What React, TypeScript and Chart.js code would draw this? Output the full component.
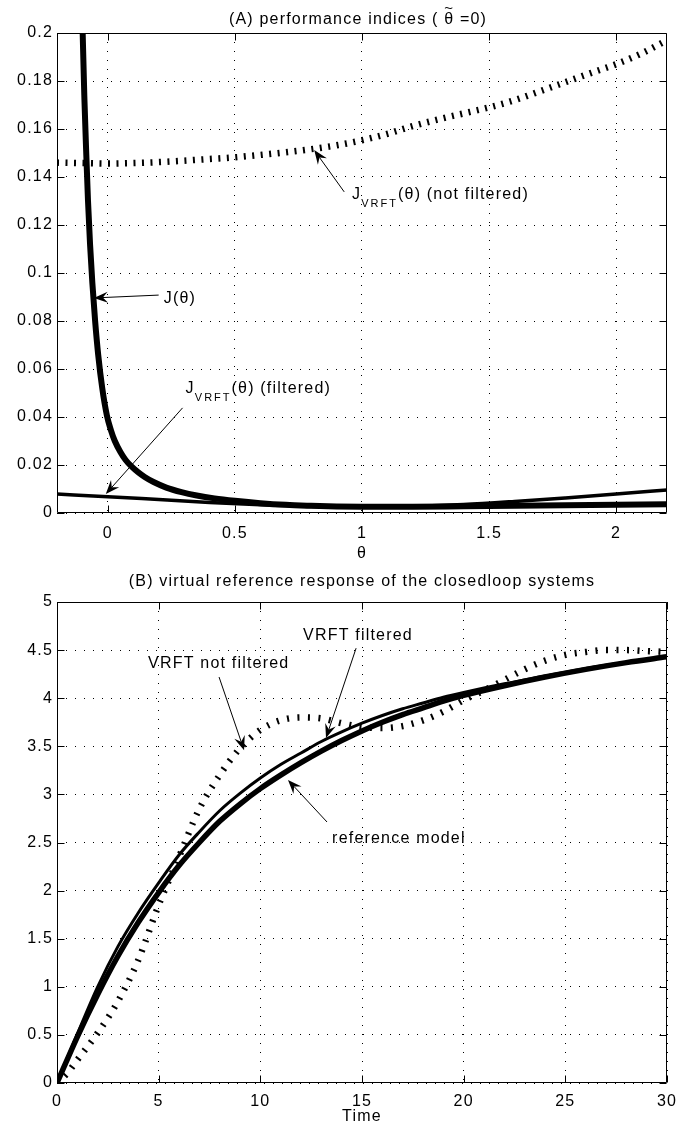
import React, { useEffect, useRef } from 'react';
import { Chart, registerables } from 'chart.js';

Chart.register(...registerables);

const FONT_FAMILY = '"Liberation Sans", Arial, Helvetica, sans-serif';
const SPACING = '1.2px';

type TitlePart = { text: string; tilde?: boolean };

// ---------------- Panel A: performance indices ----------------
const titleA: TitlePart[] = [{ text: '(A) performance indices ( ' }, { text: '\u03B8', tilde: true }, { text: ' =0)' }];
const thetaJ = [-0.104, -0.099, -0.092, -0.085, -0.078, -0.07, -0.061, -0.05, -0.038, -0.022, -0.004, 0.012, 0.027, 0.05, 0.07, 0.094, 0.12, 0.145, 0.18, 0.23, 0.29, 0.35, 0.42, 0.5, 0.6, 0.7, 0.8, 0.9, 1.0, 1.2, 1.4, 1.6, 1.8, 2.0, 2.2];
const valuesJ = [0.23, 0.2, 0.172, 0.15, 0.13, 0.112, 0.096, 0.08, 0.066, 0.052, 0.0408, 0.0345, 0.0301, 0.0253, 0.0221, 0.0193, 0.0169, 0.015, 0.0129, 0.0106, 0.0087, 0.0073, 0.0061, 0.0051, 0.0041, 0.0034, 0.003, 0.0027, 0.0026, 0.0026, 0.0028, 0.003, 0.0032, 0.0034, 0.0036];
const thetaFiltered = [-0.2, 0, 0.2, 0.4, 0.6, 0.8, 1.0, 1.2, 1.4, 1.6, 1.8, 2.0, 2.2];
const valuesFiltered = [0.0079, 0.0068, 0.0056, 0.0044, 0.0034, 0.0027, 0.0024, 0.0027, 0.0035, 0.0048, 0.0063, 0.0079, 0.0096];
const thetaNotFiltered = [-0.2, -0.1, 0, 0.1, 0.2, 0.3, 0.4, 0.5, 0.6, 0.7, 0.8, 0.9, 1.0, 1.1, 1.2, 1.3, 1.4, 1.5, 1.6, 1.7, 1.8, 1.9, 2.0, 2.1, 2.2];
const valuesNotFiltered = [0.146, 0.1458, 0.1456, 0.1458, 0.1462, 0.1468, 0.1475, 0.1482, 0.1492, 0.1503, 0.1516, 0.1532, 0.1553, 0.158, 0.1612, 0.164, 0.1665, 0.169, 0.172, 0.1757, 0.1795, 0.1833, 0.187, 0.1915, 0.197];
const xTicksA = [0, 0.5, 1, 1.5, 2];
const yTicksA = [0, 0.02, 0.04, 0.06, 0.08, 0.1, 0.12, 0.14, 0.16, 0.18, 0.2];

// ---------------- Panel B: virtual reference responses ----------------
const titleB: TitlePart[] = [{ text: '(B) virtual reference response of the closedloop systems' }];
const timeRef = [0, 1, 2, 3, 4, 5, 6, 7, 8, 9, 10, 11, 12, 13, 14, 15, 16, 17, 18, 19, 20, 22, 24, 26, 28, 30];
const valuesRef = [0, 0.48, 0.92, 1.32, 1.67, 1.98, 2.26, 2.5, 2.72, 2.9, 3.06, 3.2, 3.33, 3.45, 3.56, 3.66, 3.75, 3.83, 3.9, 3.97, 4.03, 4.13, 4.22, 4.3, 4.37, 4.43];
const timeVF = [0, 1, 2, 3, 4, 5, 6, 7, 8, 9, 10, 11, 12, 13, 14, 15, 16, 17, 18, 19, 20, 22, 24, 26, 28, 30];
const valuesVF = [0, 0.51, 1.0, 1.42, 1.77, 2.08, 2.37, 2.61, 2.83, 3.01, 3.17, 3.31, 3.43, 3.55, 3.65, 3.74, 3.82, 3.89, 3.95, 4.01, 4.06, 4.15, 4.23, 4.31, 4.375, 4.43];
const timeVNF = [0, 0.5, 1, 2, 3, 4, 5, 6, 7, 8, 9, 10, 11, 12, 13, 14, 15, 16, 17, 18, 19, 20, 21, 22, 23, 24, 25, 26, 27, 28, 29, 30];
const valuesVNF = [0, 0.1, 0.24, 0.52, 0.85, 1.28, 1.85, 2.35, 2.85, 3.2, 3.48, 3.67, 3.77, 3.8, 3.79, 3.74, 3.7, 3.69, 3.71, 3.77, 3.86, 3.98, 4.08, 4.19, 4.3, 4.39, 4.45, 4.48, 4.5, 4.5, 4.49, 4.48];
const xTicksB = [0, 5, 10, 15, 20, 25, 30];
const yTicksB = [0, 0.5, 1, 1.5, 2, 2.5, 3, 3.5, 4, 4.5, 5];

type Part = { text: string; sub?: boolean };
type Note = { parts: Part[]; x: number; y: number; from: [number, number]; to: [number, number] };

const notesA: Note[] = [
  { parts: [{ text: 'J(\u03B8)' }], x: 0.22, y: 0.0877, from: [0.2, 0.0908], to: [-0.055, 0.0896] },
  { parts: [{ text: 'J' }, { text: 'VRFT', sub: true }, { text: '(\u03B8) (filtered)' }], x: 0.306, y: 0.05, from: [0.294, 0.0438], to: [-0.008, 0.0079] },
  { parts: [{ text: 'J' }, { text: 'VRFT', sub: true }, { text: '(\u03B8) (not filtered)' }], x: 0.961, y: 0.1308, from: [0.93, 0.1338], to: [0.812, 0.1512] },
];

const notesB: Note[] = [
  { parts: [{ text: 'VRFT not filtered' }], x: 4.48, y: 4.314, from: [7.97, 4.22], to: [9.2, 3.46] },
  { parts: [{ text: 'VRFT filtered' }], x: 12.1, y: 4.605, from: [14.71, 4.52], to: [13.23, 3.586] },
  { parts: [{ text: 'reference model' }], x: 13.53, y: 2.495, from: [13.28, 2.713], to: [11.36, 3.15] },
];

function pts(xs: number[], ys: number[]) {
  return xs.map((x, i) => ({ x, y: ys[i] }));
}

function lineDs(xs: number[], ys: number[], width: number, dash?: number[]) {
  return {
    data: pts(xs, ys),
    borderColor: '#000',
    backgroundColor: '#000',
    borderWidth: width,
    borderDash: dash || [],
    borderCapStyle: dash ? 'butt' : 'round',
    borderJoinStyle: 'round',
    pointRadius: 0,
    pointHoverRadius: 0,
    fill: false,
    cubicInterpolationMode: 'monotone',
    clip: 0,
  };
}

function drawArrow(ctx: CanvasRenderingContext2D, sx: number, sy: number, tx: number, ty: number) {
  const ang = Math.atan2(ty - sy, tx - sx);
  const c = Math.cos(ang), s = Math.sin(ang);
  const L = 14, W = 5.5, N = 9;
  ctx.beginPath();
  ctx.moveTo(sx, sy);
  ctx.lineTo(tx - c * N, ty - s * N);
  ctx.stroke();
  const bx = tx - c * L, by = ty - s * L;
  ctx.beginPath();
  ctx.moveTo(tx, ty);
  ctx.lineTo(bx - s * W, by + c * W);
  ctx.lineTo(tx - c * N, ty - s * N);
  ctx.lineTo(bx + s * W, by - c * W);
  ctx.closePath();
  ctx.fill();
}

function framePlugin(title: TitlePart[], titleX: number, titleY: number, notes: Note[]) {
  return {
    id: 'frame',
    beforeDraw(chart: any) {
      (chart.ctx as any).letterSpacing = SPACING;
    },
    afterDraw(chart: any) {
      const { ctx, chartArea: a, scales } = chart;
      const xs = scales.x, ys = scales.y;
      ctx.save();
      ctx.strokeStyle = '#000';
      ctx.fillStyle = '#000';
      ctx.lineWidth = 1;
      const L = Math.round(a.left) + 0.5, R = Math.round(a.right) - 0.5;
      const T = Math.round(a.top) + 0.5, B = Math.round(a.bottom) - 0.5;
      ctx.beginPath();
      ctx.rect(L, T, R - L, B - T);
      ctx.stroke();
      const tl = 7;
      ctx.beginPath();
      xs.ticks.forEach((t: any) => {
        const p = Math.round(xs.getPixelForValue(t.value)) + 0.5;
        ctx.moveTo(p, B); ctx.lineTo(p, B - tl);
        ctx.moveTo(p, T); ctx.lineTo(p, T + tl);
      });
      ys.ticks.forEach((t: any) => {
        const p = Math.round(ys.getPixelForValue(t.value)) + 0.5;
        ctx.moveTo(L, p); ctx.lineTo(L + tl, p);
        ctx.moveTo(R, p); ctx.lineTo(R - tl, p);
      });
      ctx.stroke();

      // title (with optional tilde accent)
      ctx.font = `16px ${FONT_FAMILY}`;
      (ctx as any).letterSpacing = SPACING;
      ctx.textAlign = 'left';
      ctx.textBaseline = 'alphabetic';
      const total = title.reduce((w, p) => w + ctx.measureText(p.text).width, 0);
      let tx = titleX - total / 2;
      title.forEach((p) => {
        const w = ctx.measureText(p.text).width;
        ctx.fillText(p.text, tx, titleY);
        if (p.tilde) {
          ctx.save();
          (ctx as any).letterSpacing = '0px';
          ctx.font = `15px ${FONT_FAMILY}`;
          ctx.textAlign = 'center';
          ctx.fillText('~', tx + (w - 1.2) / 2, titleY - 11);
          ctx.restore();
        }
        tx += w;
      });

      ctx.textAlign = 'left';
      notes.forEach((n) => {
        let px = xs.getPixelForValue(n.x);
        const py = ys.getPixelForValue(n.y);
        n.parts.forEach((part) => {
          if (part.sub) {
            ctx.font = `11px ${FONT_FAMILY}`;
            (ctx as any).letterSpacing = '2px';
            ctx.fillText(part.text, px, py + 8);
            px += ctx.measureText(part.text).width;
          } else {
            ctx.font = `16px ${FONT_FAMILY}`;
            (ctx as any).letterSpacing = SPACING;
            ctx.fillText(part.text, px, py);
            px += ctx.measureText(part.text).width;
          }
        });
        drawArrow(
          ctx,
          xs.getPixelForValue(n.from[0]), ys.getPixelForValue(n.from[1]),
          xs.getPixelForValue(n.to[0]), ys.getPixelForValue(n.to[1])
        );
      });
      ctx.restore();
    },
  };
}

function axisOpts(min: number, max: number, ticks: number[], opts: any) {
  return {
    type: 'linear',
    min,
    max,
    afterBuildTicks: (s: any) => {
      s.ticks = ticks.map((v) => ({ value: v }));
    },
    ticks: {
      font: { family: FONT_FAMILY, size: 16 },
      color: '#000',
      padding: opts.padding,
      autoSkip: false,
      maxRotation: 0,
      callback: (v: any) => String(v),
    },
    grid: { color: '#000', lineWidth: 1, drawTicks: false },
    border: { display: false, dash: [1, 8] },
    title: opts.title
      ? {
          display: true,
          text: opts.title,
          font: { family: FONT_FAMILY, size: 16 },
          color: '#000',
          padding: { top: 0, bottom: opts.titlePad },
        }
      : { display: false },
    afterFit: opts.afterFit,
  };
}

function configA(): any {
  return {
    type: 'line',
    data: {
      datasets: [
        lineDs(thetaJ, valuesJ, 6),
        lineDs(thetaFiltered, valuesFiltered, 3.5),
        lineDs(thetaNotFiltered, valuesNotFiltered, 6.5, [2, 6.5]),
      ],
    },
    options: {
      responsive: false,
      animation: false,
      devicePixelRatio: 1,
      layout: { padding: { left: 0, top: 33, right: 31, bottom: 0 } },
      plugins: { legend: { display: false }, title: { display: false }, tooltip: { enabled: false } },
      events: [],
      scales: {
        x: axisOpts(-0.2, 2.2, xTicksA, {
          padding: 11,
          title: '\u03B8',
          titlePad: 7,
          afterFit: (s: any) => { s.height = 57; },
        }),
        y: axisOpts(0, 0.2, yTicksA, {
          padding: 4,
          afterFit: (s: any) => { s.width = 57; },
        }),
      },
    },
    plugins: [framePlugin(titleA, 358, 24, notesA)],
  };
}

function configB(): any {
  return {
    type: 'line',
    data: {
      datasets: [
        lineDs(timeVF, valuesVF, 3),
        lineDs(timeRef, valuesRef, 5.5),
        lineDs(timeVNF, valuesVNF, 6.5, [2, 8.5]),
      ],
    },
    options: {
      responsive: false,
      animation: false,
      devicePixelRatio: 1,
      layout: { padding: { left: 0, top: 36, right: 31, bottom: 0 } },
      plugins: { legend: { display: false }, title: { display: false }, tooltip: { enabled: false } },
      events: [],
      scales: {
        x: axisOpts(0, 30, xTicksB, {
          padding: 9,
          title: 'Time',
          titlePad: 7,
          afterFit: (s: any) => { s.height = 50; },
        }),
        y: axisOpts(0, 5, yTicksB, {
          padding: 4,
          afterFit: (s: any) => { s.width = 57; },
        }),
      },
    },
    plugins: [framePlugin(titleB, 362, 20, notesB)],
  };
}

function Panel({ top, height, make }: { top: number; height: number; make: () => any }) {
  const ref = useRef<HTMLCanvasElement>(null);
  useEffect(() => {
    const chart = new Chart(ref.current as HTMLCanvasElement, make());
    return () => chart.destroy();
  }, []);
  return (
    <canvas
      ref={ref}
      width={698}
      height={height}
      style={{ position: 'absolute', left: 0, top, width: 698, height, display: 'block' }}
    />
  );
}

export default function App() {
  return (
    <div style={{ position: 'absolute', left: 0, top: 0, width: 698, height: 1133, background: '#fff' }}>
      <Panel top={0} height={570} make={configA} />
      <Panel top={566} height={567} make={configB} />
    </div>
  );
}
